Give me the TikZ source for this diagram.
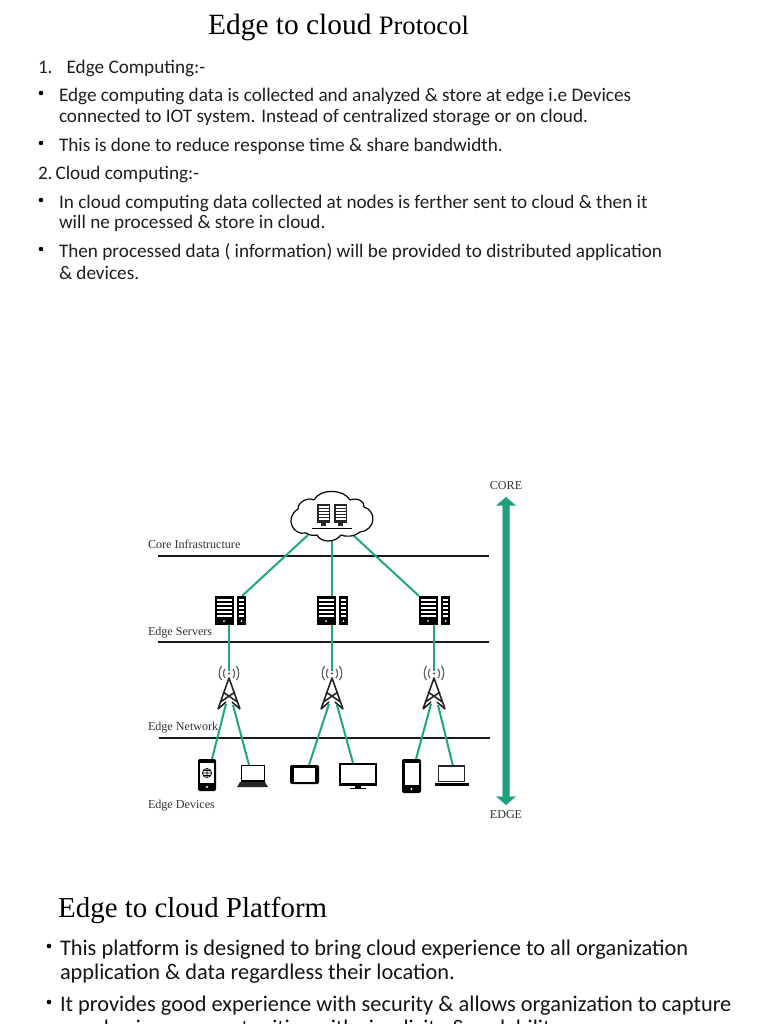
\documentclass[tikz,border=0pt]{standalone}
\usepackage{fontspec}
\setmainfont{Liberation Serif}
\newfontfamily\bodyf{Carlito}
\definecolor{linkg}{HTML}{22A878}
\definecolor{arrg}{HTML}{1F9E78}
\definecolor{arrb}{HTML}{58AEE0}
\tikzset{
  line/.style={anchor=base west,inner sep=0pt,outer sep=0pt,font=\bodyf\fontsize{19.2}{22}\selectfont,text=black!88},
  big/.style={anchor=base west,inner sep=0pt,outer sep=0pt,font=\bodyf\fontsize{22.35}{25}\selectfont,text=black!92},
  bull/.style={circle,fill=black,inner sep=0pt,minimum size=4.6pt},
  lab/.style={anchor=base west,inner sep=0pt,outer sep=0pt,font=\fontsize{12.1}{14}\selectfont,text=black!80},
  tier/.style={draw=black!90,line width=1.4pt},
  glink/.style={draw=linkg,line width=2pt},
  srv/.pic={
    \fill[black] (0,0) rectangle (19,29);
    \foreach \yy in {3,7,11,15,19} {\fill[white] (2,\yy) rectangle (17,\yy+2.2);}
    \fill[white] (9,25) circle (1);
    \fill[black] (22,0) rectangle (31,29);
    \foreach \yy in {3,7,11,15,19} {\fill[white] (24,\yy) rectangle (29,\yy+2.2);}
    \fill[white] (26.5,25) circle (1);
  },
  rack/.pic={
    \fill[black!85] (0,0) rectangle (13,19);
    \foreach \yy in {2,5,8,11,14} {\fill[white] (1.5,\yy) rectangle (11.5,\yy+1.7);}
    \fill[black!85] (4,19) rectangle (9,22);
  },
  tower/.pic={
    \draw[black!85,line width=1.6pt,line join=round]
      (-11,31) -- (0,0) -- (11,31)
      (-8.5,24) -- (6,14) (8.5,24) -- (-6,14) (-11,31) -- (-3,24) (11,31) -- (3,24);
    \draw[black!60,line width=1.2pt]
      (-4,-9) .. controls (-6,-7) and (-6,-2) .. (-4,0)
      (4,-9) .. controls (6,-7) and (6,-2) .. (4,0)
      (-7.5,-12) .. controls (-10.5,-8) and (-10.5,-1) .. (-7.5,2)
      (7.5,-12) .. controls (10.5,-8) and (10.5,-1) .. (7.5,2);
    \fill[black!70] (0,-4.5) circle (1.2);
  }
}
\begin{document}
\begin{tikzpicture}[x=1pt,y=-1pt]
\useasboundingbox (0,0) rectangle (768,1024);
\clip (0,0) rectangle (768,1024);
\fill[white] (0,0) rectangle (768,1024);

% --- heading and text
\node[anchor=base west,inner sep=0pt] (title) at (208,35) {\fontsize{29.4}{32}\selectfont Edge to cloud \fontsize{26.6}{32}\selectfont Protocol};
\node[line] (a1) at (38,74) {1.\hspace{14pt}Edge Computing:-};
\node[bull] (b1) at (41,93) {};
\node[line] (a2) at (59,102) {Edge computing data is collected and analyzed \& store at edge i.e Devices};
\node[line] (a3) at (59,123) {connected to IOT system. Instead of centralized storage or on cloud.};
\node[bull] (b2) at (41,143) {};
\node[line] (a4) at (59,152) {This is done to reduce response time \& share bandwidth.};
\node[line] (a5) at (38,180) {2.\hspace{3pt}Cloud computing:-};
\node[bull] (b3) at (41,200) {};
\node[line] (a6) at (59,209) {In cloud computing data collected at nodes is ferther sent to cloud \& then it};
\node[line] (a7) at (59,229) {will ne processed \& store in cloud.};
\node[bull] (b4) at (41,249) {};
\node[line] (a8) at (59,258) {Then processed data ( information) will be provided to distributed application};
\node[line] (a9) at (59,279) {\& devices.};

\node[anchor=base west,inner sep=0pt] (title2) at (58,917) {\fontsize{28.9}{32}\selectfont Edge to cloud Platform};
\node[bull] (b5) at (49,946) {};
\node[big] (c1) at (60,955) {This platform is designed to bring cloud experience to all organization};
\node[big] (c2) at (60,979) {application \& data regardless their location.};
\node[bull] (b6) at (49,1002) {};
\node[big] (c3) at (60,1011) {It provides good experience with security \& allows organization to capture};
\node[big] (c4) at (60,1035) {new business opportunities with simplicity \& scalability.};

% --- anchor points
\coordinate (cl) at (308,535); \coordinate (cm) at (332,540); \coordinate (cr) at (353,535);
\coordinate (s1t) at (242,596); \coordinate (s2t) at (332,596); \coordinate (s3t) at (419,596);
\coordinate (s1b) at (229,624); \coordinate (s2b) at (332,624); \coordinate (s3b) at (434,624);
\coordinate (t1) at (229,671); \coordinate (t2) at (332,671); \coordinate (t3) at (434,671);
\coordinate (t1l) at (226,704); \coordinate (t1r) at (233,705);
\coordinate (t2l) at (329,704); \coordinate (t2r) at (337,705);
\coordinate (t3l) at (431,704); \coordinate (t3r) at (438,705);
\coordinate (d1) at (212,759); \coordinate (d2) at (249,765); \coordinate (d3) at (309,765);
\coordinate (d4) at (353,763); \coordinate (d5) at (416,759); \coordinate (d6) at (453,766);

% --- tier lines
\coordinate (h1a) at (158,556); \coordinate (h1b) at (489,556);
\coordinate (h2a) at (158,642); \coordinate (h2b) at (489,642);
\coordinate (h3a) at (159,738); \coordinate (h3b) at (490,738);
\draw[tier] (h1a) -- (h1b);
\draw[tier] (h2a) -- (h2b);
\draw[tier] (h3a) -- (h3b);

% --- green links
\draw[glink] (cl) -- (s1t);
\draw[glink] (cm) -- (s2t);
\draw[glink] (cr) -- (s3t);
\draw[glink] (s1b) -- (t1);
\draw[glink] (s2b) -- (t2);
\draw[glink] (s3b) -- (t3);
\draw[glink] (t1l) -- (d1); \draw[glink] (t1r) -- (d2);
\draw[glink] (t2l) -- (d3); \draw[glink] (t2r) -- (d4);
\draw[glink] (t3l) -- (d5); \draw[glink] (t3r) -- (d6);

% --- cloud
\draw[black,line width=1.2pt,fill=white]
  (306,533) .. controls (293,536) and (284,518) .. (298,509)
  .. controls (298,501) and (309,497) .. (314,500)
  .. controls (320,488) and (344,489) .. (350,500)
  .. controls (358,497) and (365,502) .. (364,507)
  .. controls (377,511) and (376,530) .. (360,532)
  .. controls (354,537) and (345,537) .. (341,535)
  .. controls (335,543) and (321,543) .. (317,535)
  .. controls (313,536) and (309,535) .. (306,533) -- cycle;
\pic at (317,504) {rack};
\pic at (334,504) {rack};
\draw[black,line width=1pt] (312,528.5) -- (352,528.5);

% --- edge servers and towers
\pic at (215,596) {srv};
\pic at (317,596) {srv};
\pic at (419,596) {srv};
\pic at (229,678) {tower};
\pic at (332,678) {tower};
\pic at (434,678) {tower};

% --- devices
% phone 1
\fill[black,rounded corners=2pt] (198,759) rectangle (216,791);
\fill[white] (200,763) rectangle (214,783);
\draw[black,line width=.7pt] (207,773) circle (4.6) (202.4,773) -- (211.6,773) (207,768.4) -- (207,777.6)
  (203,770.5) -- (211,770.5) (203,775.5) -- (211,775.5);
\fill[white] (207,787) circle (1.2);
% laptop 1
\draw[black,line width=1.2pt,fill=white] (241.5,765.5) rectangle (264.5,781);
\fill[black!85] (240,782) -- (265,782) -- (268,787) -- (237,787) -- cycle;
% tablet
\fill[black,rounded corners=2pt] (290,765) rectangle (319,784);
\fill[white] (294,767.5) rectangle (315,781.5);
% monitor
\draw[black,line width=1.6pt,fill=white] (339.8,763.8) rectangle (376.2,785);
\fill[black] (339,783) rectangle (377,786);
\fill[black] (350,787.5) rectangle (366,789);
\fill[black] (355,786) rectangle (361,788);
% phone 3
\fill[black,rounded corners=2pt] (402,759) rectangle (421,793);
\fill[white] (404.5,763) rectangle (418.5,785);
\fill[white] (411.5,789) circle (1.2);
% laptop 3
\draw[black!85,line width=1.1pt,fill=white] (438.5,766) rectangle (464.5,781.5);
\fill[black] (435,783) rectangle (469,786);

% --- tier labels
\node[lab] (l1) at (148,548) {Core Infrastructure};
\node[lab] (l2) at (148,635) {Edge Servers};
\node[lab] (l3) at (148,730) {Edge Network};
\node[lab] (l4) at (148,808) {Edge Devices};

% --- core-edge axis
\node[lab,anchor=base] (core) at (506,489) {CORE};
\node[lab,anchor=base] (edge) at (506,818) {EDGE};
\fill[arrg,draw=arrb!70!arrg,line width=.4pt]
  (506,497) -- (515.5,505.5) -- (509.5,505.5) -- (509.5,796.5) -- (515.5,796.5) -- (506,805)
  -- (496.5,796.5) -- (502.5,796.5) -- (502.5,505.5) -- (496.5,505.5) -- cycle;
\end{tikzpicture}
\end{document}
